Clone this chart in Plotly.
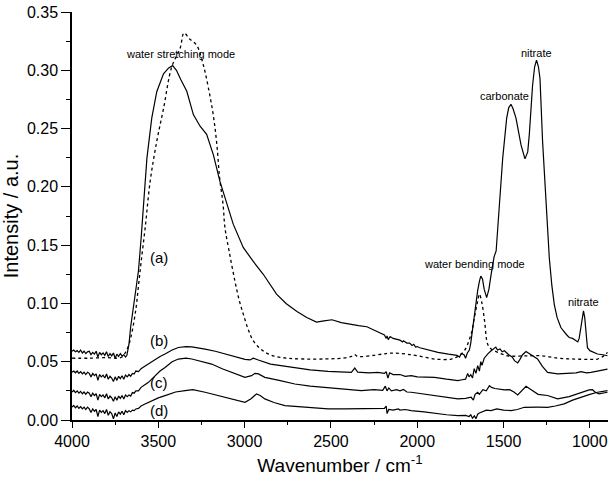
import plotly.graph_objects as go

# ---- data ----
a_wn = [4000, 3990, 3980, 3970, 3960, 3950, 3940, 3930, 3920, 3910, 3900, 3890, 3880, 3870, 3860, 3850,
        3840, 3830, 3820, 3810, 3800, 3790, 3780, 3770, 3760, 3750, 3740, 3730, 3720, 3710, 3700, 3690,
        3682, 3670, 3660, 3645, 3630, 3615, 3600, 3586, 3566, 3538, 3509, 3470, 3440, 3417, 3395, 3370,
        3335, 3297, 3258, 3220, 3181, 3143, 3105, 3066, 3008, 2975, 2950, 2892, 2815, 2760, 2697, 2640,
        2584, 2540, 2494, 2440, 2382, 2340, 2292, 2250, 2230, 2220, 2205, 2190, 2180, 2175, 2168, 2157,
        2140, 2120, 2100, 2085, 2080, 2060, 2044, 2030, 2020, 2010, 2000, 1985, 1960, 1932, 1880, 1819,
        1790, 1770, 1755, 1745, 1729, 1720, 1710, 1698, 1690, 1684, 1673, 1660, 1650, 1640, 1632, 1622,
        1612, 1598, 1585, 1572, 1555, 1543, 1524, 1505, 1482, 1470, 1457, 1445, 1428, 1399, 1376, 1360,
        1351, 1332, 1320, 1309, 1298, 1289, 1274, 1254, 1235, 1220, 1206, 1190, 1168, 1140, 1120, 1100,
        1081, 1070, 1062, 1052, 1044, 1037, 1030, 1022, 1014, 1000, 980, 956, 925, 898]
a_int = [0.0590, 0.0600, 0.0585, 0.0595, 0.0580, 0.0600, 0.0575, 0.0590, 0.0570, 0.0585, 0.0590, 0.0560,
         0.0580, 0.0565, 0.0590, 0.0540, 0.0580, 0.0560, 0.0575, 0.0555, 0.0585, 0.0545, 0.0570, 0.0550,
         0.0575, 0.0530, 0.0565, 0.0545, 0.0570, 0.0550, 0.0560, 0.0540, 0.0555, 0.065, 0.080, 0.095,
         0.110, 0.128, 0.155, 0.182, 0.2246, 0.259, 0.2816, 0.297, 0.302, 0.304, 0.300, 0.292, 0.282,
         0.262, 0.252, 0.245, 0.2275, 0.2047, 0.186, 0.168, 0.148, 0.141, 0.136, 0.125, 0.108, 0.100,
         0.093, 0.088, 0.084, 0.085, 0.086, 0.0835, 0.0824, 0.081, 0.080, 0.077, 0.0755, 0.0745, 0.0735,
         0.0730, 0.0700, 0.0720, 0.0690, 0.0716, 0.0700, 0.0690, 0.0685, 0.0670, 0.0680, 0.0660, 0.0660,
         0.0640, 0.0650, 0.0625, 0.0630, 0.0620, 0.0610, 0.0605, 0.0580, 0.0565, 0.0560, 0.0555, 0.0540,
         0.0570, 0.0560, 0.0530, 0.0575, 0.0600, 0.0660, 0.0730, 0.0880, 0.1000, 0.1110, 0.1190, 0.1235,
         0.1210, 0.1120, 0.1050, 0.1120, 0.1250, 0.1400, 0.1450, 0.1820, 0.2246, 0.2590, 0.2680, 0.2708,
         0.2670, 0.2590, 0.2360, 0.2240, 0.2300, 0.2446, 0.2870, 0.3030, 0.3087, 0.3030, 0.2930, 0.2390,
         0.1820, 0.1390, 0.1150, 0.0990, 0.0880, 0.0793, 0.0740, 0.0708, 0.0700, 0.0685, 0.0670, 0.0700,
         0.0800, 0.0900, 0.0936, 0.0880, 0.0720, 0.0620, 0.0595, 0.0580, 0.0566, 0.0560, 0.0551]

water_wn = [4000, 3900, 3800, 3740, 3711, 3690, 3670, 3653, 3630, 3615, 3600, 3576, 3547, 3509, 3470,
            3422, 3374, 3351, 3320, 3278, 3240, 3210, 3180, 3160, 3145, 3125, 3114, 3090, 3056, 3030,
            3008, 2980, 2950, 2900, 2835, 2750, 2642, 2500, 2420, 2380, 2362, 2345, 2250, 2180, 2131,
            2060, 1998, 1900, 1803, 1760, 1727, 1688, 1669, 1650, 1640, 1625, 1610, 1592, 1572, 1553,
            1476, 1380, 1283, 1180, 1091, 1000, 956, 920, 898]
water_int = [0.053, 0.053, 0.0535, 0.053, 0.054, 0.058, 0.065, 0.075, 0.095, 0.115, 0.135, 0.165, 0.205,
             0.239, 0.267, 0.303, 0.3186, 0.332, 0.327, 0.3215, 0.305, 0.285, 0.260, 0.235, 0.208, 0.185,
             0.165, 0.145, 0.119, 0.102, 0.091, 0.078, 0.068, 0.060, 0.0551, 0.053, 0.0523, 0.0525,
             0.0532, 0.0545, 0.056, 0.0545, 0.0555, 0.057, 0.0574, 0.0565, 0.0551, 0.0523, 0.0523, 0.055,
             0.0594, 0.0737, 0.0879, 0.102, 0.108, 0.100, 0.085, 0.065, 0.061, 0.0594, 0.0551, 0.055,
             0.0551, 0.053, 0.0523, 0.052, 0.0523, 0.055, 0.058]

b_wn = [4000, 3990, 3980, 3970, 3960, 3950, 3940, 3930, 3920, 3910, 3900, 3890, 3880, 3870, 3860, 3850,
        3840, 3830, 3820, 3810, 3800, 3790, 3780, 3770, 3760, 3750, 3740, 3730, 3720, 3710, 3700, 3690,
        3680, 3670, 3660, 3650, 3640, 3630, 3615, 3600, 3585, 3570, 3557, 3540, 3525, 3510, 3490, 3461,
        3440, 3420, 3384, 3340, 3306, 3260, 3229, 3170, 3114, 3050, 2998, 2969, 2950, 2921, 2850, 2780,
        2709, 2620, 2517, 2440, 2382, 2362, 2345, 2280, 2228, 2190, 2180, 2170, 2160, 2140, 2100, 2070,
        2035, 2000, 1960, 1900, 1830, 1765, 1740, 1720, 1708, 1700, 1690, 1680, 1670, 1660, 1650, 1640,
        1632, 1625, 1612, 1601, 1590, 1575, 1560, 1545, 1535, 1520, 1508, 1495, 1470, 1450, 1437, 1418,
        1405, 1390, 1370, 1340, 1303, 1275, 1245, 1187, 1120, 1080, 1052, 1020, 994, 950, 898]
b_int = [0.0410, 0.0420, 0.0405, 0.0420, 0.0400, 0.0415, 0.0395, 0.0410, 0.0390, 0.0410, 0.0400, 0.0370,
         0.0400, 0.0380, 0.0395, 0.0340, 0.0390, 0.0370, 0.0385, 0.0360, 0.0395, 0.0350, 0.0375, 0.0360,
         0.0330, 0.0370, 0.0340, 0.0375, 0.0355, 0.0380, 0.0350, 0.0385, 0.0370, 0.0390, 0.0375, 0.0400,
         0.0395, 0.0420, 0.0415, 0.0440, 0.0455, 0.0470, 0.0480, 0.0500, 0.0510, 0.0530, 0.0545, 0.0566,
         0.0585, 0.0600, 0.0622, 0.0630, 0.0628, 0.0618, 0.0608, 0.0590, 0.0566, 0.0540, 0.0520, 0.0515,
         0.0530, 0.0515, 0.0480, 0.0465, 0.0451, 0.0430, 0.0417, 0.0410, 0.0409, 0.0446, 0.0410, 0.0405,
         0.0409, 0.0400, 0.0415, 0.0360, 0.0405, 0.0390, 0.0390, 0.0375, 0.0380, 0.0370, 0.0370, 0.0366,
         0.0350, 0.0338, 0.0345, 0.0350, 0.0400, 0.0370, 0.0390, 0.0360, 0.0440, 0.0400, 0.0466, 0.0420,
         0.0500, 0.0470, 0.0530, 0.0551, 0.0570, 0.0590, 0.0610, 0.0625, 0.0600, 0.0610, 0.0585, 0.0594,
         0.0560, 0.0540, 0.0509, 0.0490, 0.0520, 0.0560, 0.0588, 0.0560, 0.0523, 0.0460, 0.0409, 0.0395,
         0.0400, 0.0405, 0.0415, 0.0405, 0.0409, 0.0420, 0.0437]

c_wn = [4000, 3990, 3980, 3970, 3960, 3950, 3940, 3930, 3920, 3910, 3900, 3890, 3880, 3870, 3860, 3850,
        3840, 3830, 3820, 3810, 3800, 3790, 3780, 3770, 3760, 3750, 3740, 3730, 3720, 3710, 3700, 3690,
        3680, 3670, 3660, 3650, 3640, 3630, 3615, 3600, 3580, 3557, 3535, 3510, 3490, 3461, 3440, 3420,
        3384, 3340, 3306, 3250, 3191, 3130, 3076, 3030, 2998, 2960, 2940, 2920, 2900, 2883, 2800, 2709,
        2620, 2517, 2420, 2324, 2250, 2200, 2185, 2175, 2165, 2150, 2120, 2100, 2080, 2060, 2035, 2000,
        1960, 1900, 1830, 1765, 1720, 1700, 1688, 1675, 1665, 1650, 1640, 1620, 1600, 1582, 1570, 1550,
        1530, 1495, 1465, 1440, 1418, 1395, 1370, 1340, 1300, 1245, 1187, 1120, 1072, 1030, 1004, 985,
        970, 948, 930, 898]
c_int = [0.0240, 0.0255, 0.0235, 0.0250, 0.0230, 0.0245, 0.0225, 0.0240, 0.0220, 0.0240, 0.0230, 0.0200,
         0.0230, 0.0210, 0.0225, 0.0170, 0.0220, 0.0200, 0.0215, 0.0190, 0.0225, 0.0180, 0.0205, 0.0190,
         0.0160, 0.0200, 0.0170, 0.0205, 0.0185, 0.0210, 0.0180, 0.0215, 0.0200, 0.0215, 0.0205, 0.0235,
         0.0230, 0.0250, 0.0250, 0.0280, 0.0300, 0.0323, 0.0355, 0.0390, 0.0420, 0.0451, 0.0480, 0.0500,
         0.0523, 0.0530, 0.0523, 0.0500, 0.0480, 0.0440, 0.0409, 0.0380, 0.0366, 0.0380, 0.0400, 0.0395,
         0.0380, 0.0366, 0.0340, 0.0309, 0.0290, 0.0275, 0.0260, 0.0252, 0.0260, 0.0255, 0.0290, 0.0250,
         0.0275, 0.0250, 0.0260, 0.0250, 0.0262, 0.0240, 0.0238, 0.0230, 0.0220, 0.0209, 0.0195, 0.0181,
         0.0185, 0.0190, 0.0195, 0.0170, 0.0220, 0.0238, 0.0220, 0.0260, 0.0250, 0.0295, 0.0280, 0.0270,
         0.0265, 0.0258, 0.0260, 0.0240, 0.0215, 0.0250, 0.0289, 0.0260, 0.0220, 0.0210, 0.0181, 0.0200,
         0.0224, 0.0240, 0.0258, 0.0260, 0.0240, 0.0224, 0.0230, 0.0238]

d_wn = [4000, 3990, 3980, 3970, 3960, 3950, 3940, 3930, 3920, 3910, 3900, 3890, 3880, 3870, 3860, 3850,
        3840, 3830, 3820, 3810, 3800, 3790, 3780, 3770, 3760, 3750, 3740, 3730, 3720, 3710, 3700, 3690,
        3680, 3670, 3660, 3650, 3640, 3630, 3615, 3600, 3580, 3557, 3530, 3500, 3461, 3400, 3345, 3300,
        3229, 3150, 3076, 2998, 2965, 2931, 2910, 2883, 2830, 2767, 2650, 2517, 2420, 2324, 2250, 2190,
        2180, 2175, 2165, 2140, 2110, 2100, 2070, 2035, 1960, 1900, 1830, 1765, 1720, 1700, 1690, 1680,
        1669, 1660, 1650, 1640, 1620, 1600, 1572, 1540, 1500, 1457, 1420, 1380, 1300, 1245, 1200, 1149,
        1100, 1052, 1000, 956, 898]
d_int = [0.0110, 0.0125, 0.0105, 0.0120, 0.0100, 0.0115, 0.0095, 0.0110, 0.0090, 0.0110, 0.0095, 0.0065,
         0.0095, 0.0075, 0.0090, 0.0030, 0.0085, 0.0065, 0.0080, 0.0055, 0.0090, 0.0040, 0.0070, 0.0055,
         0.0010, 0.0060, 0.0030, 0.0070, 0.0050, 0.0075, 0.0045, 0.0080, 0.0065, 0.0080, 0.0070, 0.0085,
         0.0080, 0.0095, 0.0100, 0.0120, 0.0135, 0.0152, 0.0170, 0.0190, 0.0209, 0.0240, 0.0252, 0.0260,
         0.0238, 0.0210, 0.0181, 0.0152, 0.0180, 0.0224, 0.0210, 0.0181, 0.0150, 0.0124, 0.0110, 0.0096,
         0.0096, 0.0096, 0.0095, 0.0100, 0.0120, 0.0055, 0.0090, 0.0085, 0.0095, 0.0085, 0.0090, 0.0081,
         0.0070, 0.0058, 0.0045, 0.0038, 0.0040, 0.0030, 0.0045, 0.0015, 0.0035, 0.0010, 0.0050, 0.0060,
         0.0070, 0.0085, 0.0081, 0.0095, 0.0085, 0.0081, 0.0090, 0.0109, 0.0110, 0.0109, 0.0120, 0.0138,
         0.0170, 0.0195, 0.0220, 0.0238, 0.0252]

labels_text = ["water stretching mode", "carbonate", "nitrate", "water bending mode", "nitrate"]
labels_wn = [3374, 1497, 1310, 1667, 1036]
labels_int = [0.3144, 0.278, 0.315, 0.134, 0.1015]

curve_tags = ["(a)", "(b)", "(c)", "(d)"]
tags_wn = [3495, 3495, 3495, 3495]
tags_int = [0.139, 0.0685, 0.0318, 0.0081]

x_ticks = [4000, 3500, 3000, 2500, 2000, 1500, 1000]

# ---- figure ----
fig = go.Figure()
line_style = dict(color="black", width=1.2)
for wn, it in [(a_wn, a_int), (b_wn, b_int), (c_wn, c_int), (d_wn, d_int)]:
    fig.add_trace(go.Scatter(x=wn, y=it, mode="lines", line=line_style, showlegend=False))
fig.add_trace(go.Scatter(x=water_wn, y=water_int, mode="lines", line_shape="spline",
                         line=dict(color="black", width=1.3, dash="dot"), showlegend=False))

for t, xw, yi in zip(labels_text, labels_wn, labels_int):
    fig.add_annotation(x=xw, y=yi, text=t, showarrow=False,
                       font=dict(family="Liberation Sans, Arial", size=11, color="black"))
for t, xw, yi in zip(curve_tags, tags_wn, tags_int):
    fig.add_annotation(x=xw, y=yi, text=t, showarrow=False,
                       font=dict(family="Liberation Sans, Arial", size=15, color="black"))

fig.update_layout(
    width=612, height=486,
    margin=dict(l=72, r=4, t=10, b=66),
    paper_bgcolor="white", plot_bgcolor="white",
    font=dict(family="Liberation Sans, Arial", color="black"),
)
fig.update_xaxes(
    range=[4000, 895], tickvals=x_ticks, ticks="outside", ticklen=6, tickwidth=1.3,
    tickcolor="black", showline=True, linecolor="black", linewidth=1.5, showgrid=False,
    zeroline=False, tickfont=dict(size=16),
    minor=dict(dtick=250, ticks="outside", ticklen=3, tickwidth=1.2, tickcolor="black", showgrid=False),
    title=dict(text="Wavenumber / cm<sup>-1</sup>", font=dict(size=19), standoff=10),
)
fig.update_yaxes(
    range=[0, 0.35], dtick=0.05, tickformat=".2f", ticks="outside", ticklen=9, tickwidth=1.3,
    tickcolor="black", showline=True, linecolor="black", linewidth=1.5, showgrid=False,
    zeroline=False, tickfont=dict(size=16),
    minor=dict(dtick=0.025, ticks="outside", ticklen=4, tickwidth=1.2, tickcolor="black", showgrid=False),
    title=dict(text="Intensity / a.u.", font=dict(size=20), standoff=4),
)

fig.write_html("out.html")
